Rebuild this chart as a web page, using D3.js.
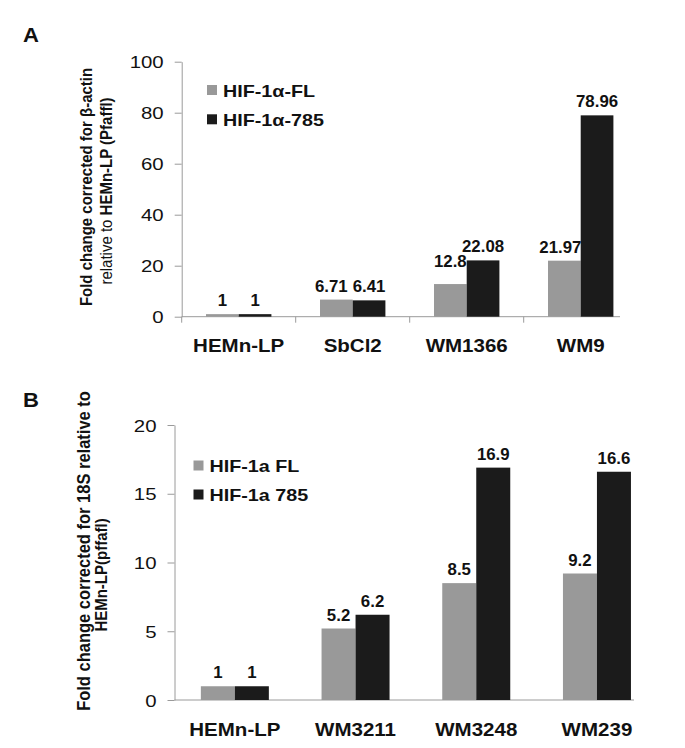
<!DOCTYPE html>
<html><head><meta charset="utf-8">
<script src="https://cdn.jsdelivr.net/npm/d3@7"></script>
<style>
html,body{margin:0;padding:0;background:#fff;}
svg{display:block;font-family:"Liberation Sans",Arial,sans-serif;}
</style></head>
<body><svg id="c" width="685" height="748"></svg>
<script>
// ---- data ----
const catsA = ["HEMn-LP", "SbCl2", "WM1366", "WM9"];
const seriesA = ["HIF-1α-FL", "HIF-1α-785"];
const flA = [1, 6.71, 12.8, 21.97];
const d785A = [1, 6.41, 22.08, 78.96];
const ticksA = [0, 20, 40, 60, 80, 100];

const catsB = ["HEMn-LP", "WM3211", "WM3248", "WM239"];
const seriesB = ["HIF-1a FL", "HIF-1a 785"];
const flB = [1, 5.2, 8.5, 9.2];
const d785B = [1, 6.2, 16.9, 16.6];
const ticksB = [0, 5, 10, 15, 20];

const colors = ["#999999", "#1b1b1b"];
const svg = d3.select("#c");
const ink = "#111";
const axisCol = "#9a9a9a";

function stext(g, x, y, txt, o) {
  const t = g.append("text")
    .attr("transform", `translate(${x},${y}) scale(${o.sx || 1},1)`)
    .attr("text-anchor", o.anchor || "start")
    .attr("font-size", o.size)
    .attr("font-weight", o.weight || "normal")
    .attr("fill", ink)
    .text(txt);
  return t;
}

function panel(cfg) {
  const g = svg.append("g");
  const y = d3.scaleLinear().domain([0, cfg.ticks[cfg.ticks.length - 1]]).range(cfg.yRange);
  const x0 = d3.scaleBand().domain(cfg.cats).range(cfg.xRange).padding(0);
  const x1 = d3.scaleBand().domain([0, 1]).range([0, x0.bandwidth()]).paddingInner(0).paddingOuter(cfg.pad);
  const vals = [cfg.s1, cfg.s2];

  // y axis
  const ya = d3.axisLeft(y).tickValues(cfg.ticks).tickSize(7).tickSizeOuter(0).tickPadding(0);
  const yg = g.append("g").attr("transform", `translate(${cfg.xRange[0]},0)`).call(ya);
  yg.select(".domain").attr("stroke", axisCol);
  yg.selectAll(".tick line").attr("stroke", axisCol);
  yg.selectAll(".tick text")
    .attr("x", null).attr("dy", null)
    .attr("transform", `translate(-18,6) scale(1.2,1)`)
    .attr("font-size", 17).attr("fill", ink).attr("font-family", null);

  // x axis line
  g.append("line").attr("x1", x0.range()[0]).attr("x2", cfg.axisEnd)
    .attr("y1", y(0)).attr("y2", y(0)).attr("stroke", axisCol);
  if (cfg.xTicks) {
    g.selectAll(".xt").data(cfg.cats).join("line")
      .attr("x1", d => x0(d)).attr("x2", d => x0(d))
      .attr("y1", y(0)).attr("y2", y(0) + 6).attr("stroke", axisCol);
  }

  // bars + labels, in order: series 0 bars, series 0 labels, series 1 bars, series 1 labels
  [0, 1].forEach(s => {
    g.selectAll(".b" + s).data(cfg.cats).join("rect")
      .attr("x", d => x0(d) + x1(s))
      .attr("width", x1.bandwidth())
      .attr("y", (d, i) => y(vals[s][i]))
      .attr("height", (d, i) => y(0) - y(vals[s][i]))
      .attr("fill", colors[s]);
    cfg.cats.forEach((c, i) => {
      const n = (cfg.nudge[s] && cfg.nudge[s][i]) || [0, 0];
      stext(g, x0(c) + x1(s) + x1.bandwidth() / 2 + n[0], y(vals[s][i]) - 8 - n[1], String(vals[s][i]),
        { anchor: "middle", size: 16.5, weight: "bold", sx: 1.02 });
    });
  });

  // category labels
  cfg.cats.forEach(c => {
    stext(g, x0(c) + x0.bandwidth() / 2, cfg.catBase, c, { anchor: "middle", size: 19, weight: "bold", sx: 1.08 });
  });

  // legend
  cfg.series.forEach((s, i) => {
    const cy = cfg.leg.y + i * cfg.leg.dy;
    g.append("rect").attr("x", cfg.leg.x).attr("y", cy - 5).attr("width", 10).attr("height", 10).attr("fill", colors[i]);
    stext(g, cfg.leg.x + 16, cy + 6.5, s, { size: 17, weight: "bold", sx: 1.16 });
  });

  // panel letter
  stext(g, 23, cfg.letterY, cfg.letter, { size: 21, weight: "bold", sx: 1.05 });

  // y title
  cfg.title.forEach((ln, i) => {
    const t = g.append("text")
      .attr("transform", `translate(${ln.x},${ln.cy}) scale(1.15,1) rotate(-90)`)
      .attr("text-anchor", "middle")
      .attr("font-size", ln.size).attr("font-weight", "bold").attr("fill", ink);
    ln.parts.forEach(p => t.append("tspan").attr("font-weight", p[1]).text(p[0]));
  });
}

panel({
  cats: catsA, series: seriesA, s1: flA, s2: d785A, ticks: ticksA,
  yRange: [316.7, 61.7], xRange: [181.7, 637.7], pad: 0.743, axisEnd: 620, xTicks: true,
  nudge: [[null, [-5, 0], [0, 9], [-4, 0]], []],
  catBase: 351.5, leg: { x: 207, y: 90, dy: 29.3 },
  letter: "A", letterY: 42,
  title: [
    { x: 92, cy: 187, size: 15, parts: [["Fold change corrected for β-actin", "bold"]] },
    { x: 112, cy: 191, size: 15, parts: [["relative to ", "normal"], ["HEMn-LP (Pfaffl)", "bold"]] }
  ]
});

panel({
  cats: catsB, series: seriesB, s1: flB, s2: d785B, ticks: ticksB,
  yRange: [700, 425], xRange: [174.5, 657.3], pad: 0.775, axisEnd: 634, xTicks: false,
  nudge: [[], []],
  catBase: 736, leg: { x: 193.5, y: 465.5, dy: 29 },
  letter: "B", letterY: 407,
  title: [
    { x: 90, cy: 551, size: 16.5, parts: [["Fold change corrected for  18S relative to", "bold"]] },
    { x: 107, cy: 575, size: 15, parts: [["HEMn-LP(pffafl)", "bold"]] }
  ]
});
</script>
</body></html>
